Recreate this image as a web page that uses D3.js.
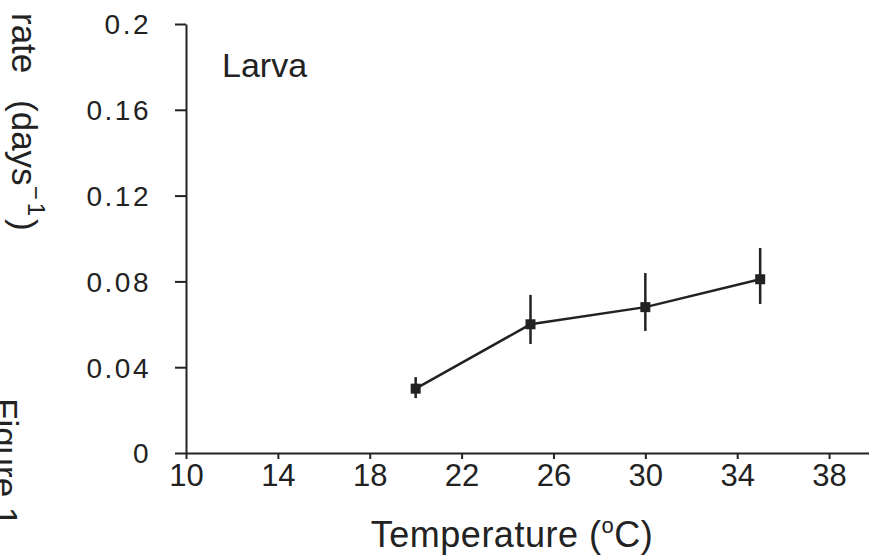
<!DOCTYPE html>
<html>
<head>
<meta charset="utf-8">
<script src="https://cdn.jsdelivr.net/npm/d3@7"></script>
<style>
  html, body { margin: 0; padding: 0; background: #fff; }
  svg { display: block; }
  text { font-family: "Liberation Sans", Arial, sans-serif; fill: #222; }
</style>
</head>
<body>
<svg id="chart" width="869" height="560"></svg>
<script>
// Larval development rate versus rearing temperature
const temperatures = [20, 25, 30, 35];
const rates        = [0.030, 0.060, 0.068, 0.081];
const errLower     = [0.0256, 0.0508, 0.0569, 0.0695];
const errUpper     = [0.0354, 0.0737, 0.0839, 0.0956];

const xTicks = [10, 14, 18, 22, 26, 30, 34, 38];
const yTicks = [0, 0.04, 0.08, 0.12, 0.16, 0.2];
const yTickLabels = ["0", "0.04", "0.08", "0.12", "0.16", "0.2"];

const svg = d3.select("#chart");
const ink = "#222";

const x = d3.scaleLinear().domain([10, 40]).range([186, 875]);
const y = d3.scaleLinear().domain([0, 0.2]).range([453, 24]);

// y axis
const yAxis = svg.append("g")
  .attr("transform", `translate(${x(10)},0)`)
  .call(d3.axisLeft(y).tickValues(yTicks).tickSizeInner(11).tickSizeOuter(0)
    .tickPadding(24).tickFormat((d, i) => yTickLabels[i]));
yAxis.select(".domain").attr("stroke", ink).attr("stroke-width", 2);
yAxis.selectAll(".tick line").attr("stroke", ink).attr("stroke-width", 2);
yAxis.selectAll(".tick text")
  .attr("font-size", 28).attr("font-family", "Liberation Sans, Arial, sans-serif")
  .attr("letter-spacing", 2.5)
  .attr("fill", ink).attr("dy", "0.35em");

// x axis
const xAxis = svg.append("g")
  .attr("transform", `translate(0,${y(0)})`)
  .call(d3.axisBottom(x).tickValues(xTicks).tickSizeInner(6).tickSizeOuter(0)
    .tickPadding(5).tickFormat(d3.format("d")));
xAxis.select(".domain").attr("stroke", ink).attr("stroke-width", 2);
xAxis.selectAll(".tick line").attr("stroke", ink).attr("stroke-width", 2);
xAxis.selectAll(".tick text")
  .attr("font-size", 31).attr("font-family", "Liberation Sans, Arial, sans-serif")
  .attr("fill", ink);

// data line
const pts = temperatures.map((t, i) => ({ t, r: rates[i], lo: errLower[i], hi: errUpper[i] }));
svg.append("path")
  .datum(pts)
  .attr("fill", "none")
  .attr("stroke", ink)
  .attr("stroke-width", 2.5)
  .attr("d", d3.line().x(d => x(d.t)).y(d => y(d.r)));

// error bars
svg.selectAll("line.err").data(pts).enter().append("line")
  .attr("class", "err")
  .attr("x1", d => x(d.t)).attr("x2", d => x(d.t))
  .attr("y1", d => y(d.lo)).attr("y2", d => y(d.hi))
  .attr("stroke", ink).attr("stroke-width", 2.5);

// square markers
const m = 10;
svg.selectAll("rect.pt").data(pts).enter().append("rect")
  .attr("class", "pt")
  .attr("x", d => x(d.t) - m / 2).attr("y", d => y(d.r) - m / 2)
  .attr("width", m).attr("height", m)
  .attr("fill", ink);

// panel label
svg.append("text")
  .attr("x", 222).attr("y", 77)
  .attr("font-size", 34)
  .text("Larva");

// x axis title
const xt = svg.append("text")
  .attr("x", 512).attr("y", 547)
  .attr("text-anchor", "middle")
  .attr("font-size", 36)
  .attr("letter-spacing", 0.5);
xt.append("tspan").text("Temperature (");
xt.append("tspan").attr("font-size", 22).attr("dy", -14).text("o");
xt.append("tspan").attr("dy", 14).text("C)");

// y axis title (rotated, reading downward)
const yt = svg.append("text")
  .attr("transform", "translate(12,13) rotate(90)")
  .attr("font-size", 35)
  .attr("word-spacing", 17);
yt.append("tspan").text("rate (days");
yt.append("tspan").attr("font-size", 24).attr("dy", -16).attr("letter-spacing", 3).text("−1");
yt.append("tspan").attr("dy", 16).text(")");

// figure caption along the left edge
svg.append("text")
  .attr("transform", "translate(-7,398) rotate(90)")
  .attr("font-size", 35)
  .text("Figure 1");
</script>
</body>
</html>
